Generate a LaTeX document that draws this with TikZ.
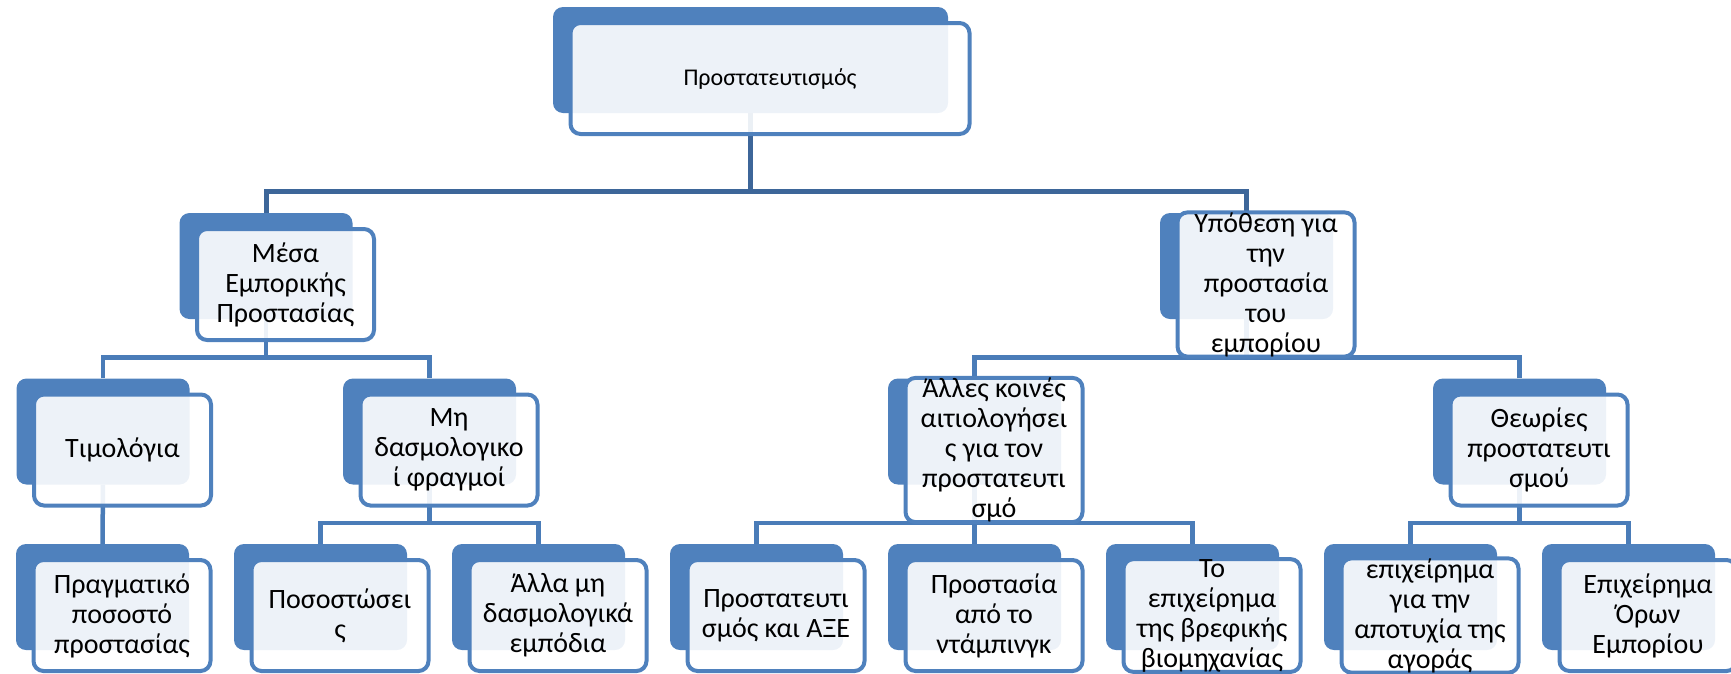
\documentclass[tikz,border=0pt]{standalone}
\usepackage{fontspec}
\setmainfont{Carlito}
\usepackage{tikz}
\usetikzlibrary{calc,backgrounds}

\definecolor{boxblue}{HTML}{4F81BD}
\definecolor{linkblue}{HTML}{4A7CB8}
\definecolor{topblue}{HTML}{3D6699}

\begin{document}
\begin{tikzpicture}[x=1pt, y=-1pt,
        back/.style={fill=boxblue, rounded corners=10pt, minimum width=173pt, minimum height=106pt, inner sep=0pt},
        front/.style={draw=boxblue, line width=4pt, fill=white, fill opacity=0.9, text opacity=1,
            rounded corners=10pt, minimum width=177pt, minimum height=111pt, inner sep=0pt,
            align=center, font=\fontsize{28pt}{30pt}\selectfont},
        link/.style={draw=linkblue, line width=4.5pt}]

        \useasboundingbox (0,0) rectangle (1731,673);
        \clip (0,0) rectangle (1731,673);

        % top box
        \node[back, minimum width=395pt] (prot-b) at (750.5,60) {};
        \node[front, minimum width=399pt, font=\fontsize{24pt}{28pt}\selectfont] (prot) at ($(prot-b)+(19.5,18.5)$) {Προστατευτισμός};

        % first level
        \node[back] (mesa-b) at (266,266) {};
        \node[front] (mesa) at ($(mesa-b)+(19.5,18.5)$) {Μέσα\\Εμπορικής\\Προστασίας};
        \node[back] (ypoth-b) at (1246.5,266) {};
        \node[front] (ypoth) at ($(ypoth-b)+(19.5,18.5)$) {Υπόθεση για\\την\\προστασία\\του\\εμπορίου};

        % second level
        \node[back] (tim-b) at (103,431.5) {};
        \node[front] (tim) at ($(tim-b)+(19.5,18.5)$) {Τιμολόγια};
        \node[back] (mi-b) at (429.5,431.5) {};
        \node[front] (mi) at ($(mi-b)+(19.5,18.5)$) {Μη\\δασμολογικο\\ί φραγμοί};
        \node[back] (alles-b) at (974.5,431.5) {};
        \node[front] (alles) at ($(alles-b)+(19.5,18.5)$) {Άλλες κοινές\\αιτιολογήσει\\ς για τον\\προστατευτι\\σμό};
        \node[back] (theor-b) at (1519.5,431.5) {};
        \node[front] (theor) at ($(theor-b)+(19.5,18.5)$) {Θεωρίες\\προστατευτι\\σμού};

        % third level
        \node[back] (pragm-b) at (102.5,597) {};
        \node[front] (pragm) at ($(pragm-b)+(19.5,18.5)$) {Πραγματικό\\ποσοστό\\προστασίας};
        \node[back] (posos-b) at (320.5,597) {};
        \node[front] (posos) at ($(posos-b)+(19.5,18.5)$) {Ποσοστώσει\\ς};
        \node[back] (allamh-b) at (538.5,597) {};
        \node[front] (allamh) at ($(allamh-b)+(19.5,18.5)$) {Άλλα μη\\δασμολογικά\\εμπόδια};
        \node[back] (axe-b) at (756.5,597) {};
        \node[front] (axe) at ($(axe-b)+(19.5,18.5)$) {Προστατευτι\\σμός και ΑΞΕ};
        \node[back] (dump-b) at (974.5,597) {};
        \node[front] (dump) at ($(dump-b)+(19.5,18.5)$) {Προστασία\\από το\\ντάμπινγκ};
        \node[back] (vref-b) at (1192.5,597) {};
        \node[front] (vref) at ($(vref-b)+(19.5,18.5)$) {Το\\επιχείρημα\\της βρεφικής\\βιομηχανίας};
        \node[back] (apot-b) at (1410.5,597) {};
        \node[front] (apot) at ($(apot-b)+(19.5,18.5)$) {επιχείρημα\\για την\\αποτυχία της\\αγοράς};
        \node[back] (oron-b) at (1628.5,597) {};
        \node[front] (oron) at ($(oron-b)+(19.5,18.5)$) {Επιχείρημα\\Όρων\\Εμπορίου};

        % connectors behind the boxes
        \begin{scope}[on background layer]
            \draw[link, draw=topblue, line width=5pt] (mesa-b.north) -- ++(0,-21) -| (prot-b.south);
            \draw[link, draw=topblue, line width=5pt] (ypoth-b.north) -- ++(0,-21) -| (prot-b.south);

            \draw[link] (tim-b.north) -- ++(0,-21) -| (mesa-b.south);
            \draw[link] (mi-b.north) -- ++(0,-21) -| (mesa-b.south);
            \draw[link] (alles-b.north) -- ++(0,-21) -| (ypoth-b.south);
            \draw[link] (theor-b.north) -- ++(0,-21) -| (ypoth-b.south);

            \draw[link] (pragm-b.north) -- (tim-b.south);
            \draw[link] (posos-b.north) -- ++(0,-21) -| (mi-b.south);
            \draw[link] (allamh-b.north) -- ++(0,-21) -| (mi-b.south);
            \draw[link] (axe-b.north) -- ++(0,-21) -| (alles-b.south);
            \draw[link] (dump-b.north) -- ++(0,-21) -| (alles-b.south);
            \draw[link] (vref-b.north) -- ++(0,-21) -| (alles-b.south);
            \draw[link] (apot-b.north) -- ++(0,-21) -| (theor-b.south);
            \draw[link] (oron-b.north) -- ++(0,-21) -| (theor-b.south);
        \end{scope}

    \end{tikzpicture}
\end{document}
